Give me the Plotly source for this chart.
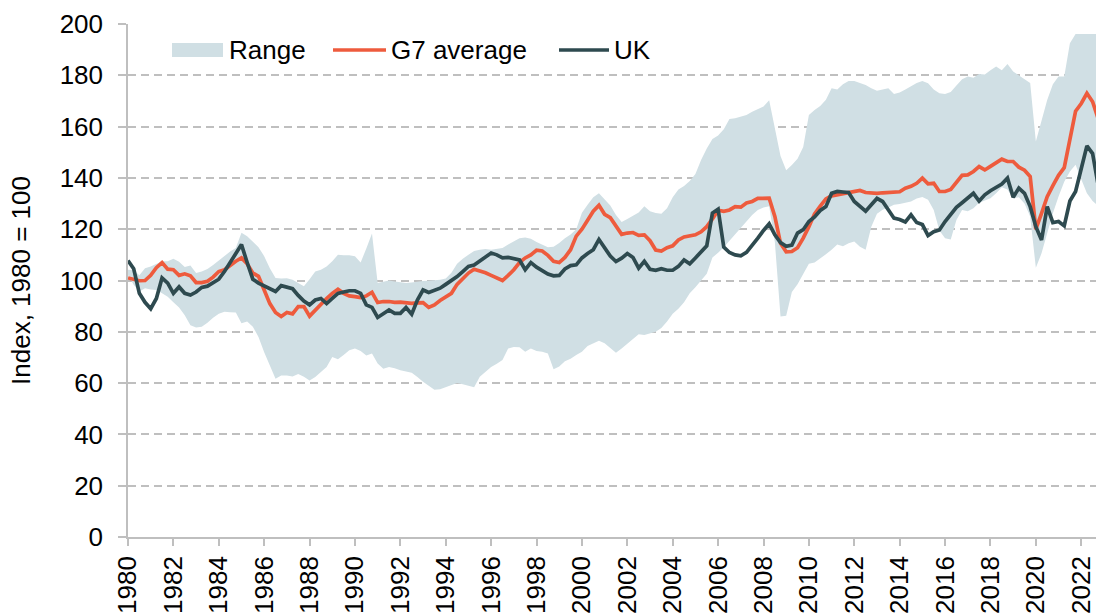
import plotly.graph_objects as go

# ---------------- data (quarterly, 1980Q1 .. 2022Q4) ----------------
years = list(range(1980, 2023))

uk = [
    107.8, 104.6, 95.0, 91.5,
    89.0, 93.0, 101.0, 99.0,
    95.0, 97.5, 95.0, 94.3,
    95.5, 97.3, 97.8, 99.0,
    100.5, 103.5, 107.0, 111.0,
    114.0, 107.0, 100.5, 99.0,
    97.8, 96.5, 95.7, 98.0,
    97.3, 96.8, 94.2, 92.0,
    90.5, 92.4, 93.0, 91.0,
    93.0, 95.0, 95.5, 96.0,
    96.0, 95.0, 90.5, 89.5,
    85.6, 87.2, 88.5, 87.2,
    87.2, 89.5, 86.9, 92.4,
    96.3, 95.3, 96.0, 97.0,
    98.5, 100.0, 101.5, 103.5,
    105.5, 106.0, 107.5, 109.2,
    110.7, 110.0, 108.8, 109.0,
    108.5, 108.0, 104.2, 107.0,
    105.2, 104.0, 102.5, 101.8,
    102.0, 104.5, 105.8, 106.1,
    108.8, 110.5, 112.0, 116.0,
    112.5, 109.5, 107.4, 108.7,
    110.5, 109.0, 104.8, 107.5,
    104.4, 104.0, 104.6, 104.0,
    104.0, 105.5, 108.0, 106.5,
    108.8, 111.0, 113.5, 126.3,
    127.8, 113.0, 110.9, 110.0,
    109.6, 111.0, 113.5, 116.5,
    119.5, 122.1, 117.8, 114.8,
    113.3, 113.8, 118.5, 119.8,
    123.0, 124.8, 127.3, 128.8,
    134.0, 134.7, 134.5, 134.3,
    130.8, 128.8, 127.0, 129.5,
    132.0, 130.8, 127.5, 124.3,
    123.8, 122.8, 125.6, 122.6,
    121.8, 117.5, 119.0, 119.7,
    123.0, 125.8, 128.5, 130.3,
    132.0, 134.0, 131.0, 133.4,
    135.0, 136.4, 137.6, 139.9,
    132.5, 136.0, 134.0, 128.8,
    121.0, 115.8, 128.8, 122.6,
    123.0, 121.3, 131.0, 134.7,
    143.1, 152.5, 149.5, 137.0,
]

g7 = [
    101.0, 100.3, 99.9, 100.0,
    102.0, 105.0, 107.0, 104.4,
    104.2, 102.0, 102.6, 101.8,
    99.2, 99.2, 99.7, 101.3,
    103.5, 104.2, 106.0, 107.5,
    108.8, 106.5, 102.9, 101.6,
    96.3, 91.0, 87.5, 86.0,
    87.5, 87.0, 89.8, 89.8,
    86.1, 88.5, 90.7, 93.0,
    95.0, 96.6, 95.0, 94.0,
    93.7, 93.3, 94.0, 95.4,
    91.4, 91.8, 91.8, 91.5,
    91.6, 91.3, 91.1, 91.3,
    91.4, 89.5, 90.5, 92.2,
    93.7, 95.0, 98.5, 100.5,
    102.9, 104.4, 103.8, 103.0,
    102.0, 100.8, 100.0, 102.0,
    104.2, 107.0, 108.8, 110.0,
    111.8, 111.5, 109.8, 107.5,
    107.0, 109.0, 112.0, 117.3,
    120.0, 123.5, 127.0, 129.3,
    125.8, 124.5, 121.0, 118.0,
    118.5, 118.7, 117.6, 117.8,
    115.5, 111.9, 111.5, 112.8,
    113.5, 115.8, 117.0, 117.5,
    117.8, 119.0, 121.0, 124.0,
    127.4, 127.0, 127.5, 128.8,
    128.6, 130.2, 130.8, 132.0,
    132.0, 132.1, 125.0, 114.5,
    111.2, 111.3, 112.8, 116.5,
    121.0, 126.0, 129.0, 131.8,
    133.0, 133.4, 134.0, 134.3,
    134.6, 135.1, 134.3, 134.0,
    134.0, 134.2, 134.3, 134.3,
    134.6, 136.0, 136.7, 137.9,
    139.9, 137.7, 137.9, 134.7,
    134.7, 135.5, 138.0, 141.0,
    141.2, 142.5, 144.4, 143.1,
    144.5, 146.0, 147.3, 146.4,
    146.4, 144.2, 143.0, 140.5,
    120.0, 126.2, 132.7, 137.0,
    141.0, 144.0, 154.8, 166.0,
    169.0, 173.0, 169.7, 163.0,
]

range_high = [
    104.2, 104.0, 102.0, 104.8,
    105.5, 106.5, 107.5, 107.5,
    108.5, 107.3, 105.3, 105.8,
    102.9, 103.5, 104.5, 106.0,
    107.8, 109.3, 111.3, 112.7,
    118.6, 117.3, 115.3, 113.0,
    109.5, 104.8, 101.0, 100.8,
    100.9, 100.3, 99.0, 97.8,
    100.5, 103.5, 104.2, 105.5,
    107.5, 110.0, 109.8, 109.8,
    109.5, 107.0, 112.5, 118.3,
    99.0, 99.6, 100.0, 99.6,
    99.2, 99.0, 99.2, 99.6,
    99.8, 99.9, 100.1, 100.3,
    100.8, 103.0, 106.5, 108.5,
    110.0, 111.5, 112.0, 112.3,
    112.0, 112.3, 112.7, 114.0,
    115.3, 116.5, 116.8, 116.3,
    115.0, 114.0, 113.0, 113.2,
    114.6, 116.5, 117.9, 120.0,
    126.4, 129.5, 132.5, 134.0,
    131.8, 129.2, 125.5, 122.8,
    124.0, 125.2, 126.5, 128.9,
    127.0, 126.3, 126.0, 128.2,
    132.5, 135.5, 136.8, 138.8,
    141.5, 147.0, 151.5, 155.2,
    156.5, 159.0, 163.0, 163.3,
    163.8, 164.5, 165.8, 166.8,
    167.8, 170.3, 160.0, 148.5,
    143.0, 145.0, 147.5, 152.0,
    164.5, 166.5, 168.0, 170.5,
    175.0, 174.5, 176.5, 177.8,
    177.8, 177.0, 176.2, 175.0,
    174.0, 174.5, 175.0, 172.7,
    173.3, 174.5, 175.7, 177.0,
    177.8, 176.9, 174.5, 173.0,
    172.7, 173.5, 176.0, 178.5,
    179.5, 179.0, 180.5, 180.3,
    182.0, 183.4, 182.0, 184.4,
    181.5, 180.1, 178.5, 177.0,
    154.2, 162.6, 170.4, 176.5,
    179.5, 179.5, 192.5, 196.1,
    196.1, 196.1, 196.1, 196.1,
]

range_low = [
    102.0, 98.3, 95.7, 97.0,
    96.5, 96.3, 95.0, 93.7,
    91.5, 89.5, 86.5, 82.6,
    81.7, 82.0, 83.5, 85.5,
    87.0, 87.8, 87.6, 87.5,
    83.3, 84.0, 82.0, 78.0,
    72.0, 67.0, 61.7, 63.0,
    63.0, 62.6, 63.5, 62.5,
    61.0, 62.4, 64.3, 66.3,
    70.2, 69.3, 71.0, 72.8,
    73.5, 72.5, 70.8, 71.5,
    67.6, 65.6, 66.3, 65.8,
    65.0, 64.5, 64.0, 62.4,
    60.5, 59.0, 57.4, 57.6,
    58.5, 59.3, 60.0, 59.6,
    59.1, 58.4, 62.5, 64.5,
    66.3, 67.5, 69.0, 73.5,
    74.1, 74.0, 72.2, 73.5,
    72.5, 72.2, 71.5, 65.4,
    66.5, 68.5, 69.5, 71.0,
    72.2, 74.5, 75.4, 76.5,
    75.5, 73.5, 71.8, 73.5,
    75.3, 77.0, 79.0, 78.8,
    79.5, 80.0, 81.5, 84.0,
    87.0, 89.0, 91.5, 95.0,
    97.4, 100.0, 102.6, 109.0,
    110.8, 113.0, 115.5, 117.8,
    120.5, 122.8, 125.5, 127.5,
    128.5, 128.9, 115.0, 86.0,
    86.3, 95.5, 98.5, 102.5,
    106.5, 107.0, 108.5, 110.2,
    112.0, 114.0, 113.4, 114.5,
    115.2, 113.2, 112.0, 121.0,
    126.0, 127.6, 128.5, 129.5,
    129.8, 130.2, 130.8, 132.0,
    132.6, 131.5, 127.5, 119.5,
    116.5, 116.0, 123.6, 127.5,
    127.0, 128.2, 130.3, 131.2,
    132.1, 134.0, 136.4, 135.5,
    132.0, 132.5, 130.0, 125.0,
    105.0, 110.6, 118.4, 126.2,
    132.7, 138.5, 142.5, 145.1,
    139.5, 134.0, 131.0, 129.0,
]

tick_years = list(range(1980, 2023, 2))
tick_labels = [str(y) for y in tick_years]
y_ticks = list(range(0, 201, 20))

# quarterly time axis (decimal years)
x = [y + q / 4 for y in years for q in range(4)]

# ---------------- styling ----------------
FONT = "Arial, Liberation Sans, sans-serif"
FS = 26
C_RANGE = "#D0DFE4"
C_G7 = "#EE5B3D"
C_UK = "#2E4A4F"
C_GRID = "#BFBFBF"
LW = 3.7

fig = go.Figure()
fig.add_trace(go.Scatter(x=x, y=range_low, mode="lines", line=dict(width=0, color=C_RANGE),
                         showlegend=False, hoverinfo="skip", name="Range low"))
fig.add_trace(go.Scatter(x=x, y=range_high, mode="lines", line=dict(width=0, color=C_RANGE),
                         fill="tonexty", fillcolor=C_RANGE, name="Range", showlegend=False))
fig.add_trace(go.Scatter(x=x, y=g7, mode="lines", line=dict(width=LW, color=C_G7),
                         name="G7 average", showlegend=False))
fig.add_trace(go.Scatter(x=x, y=uk, mode="lines", line=dict(width=LW, color=C_UK),
                         name="UK", showlegend=False))

L, R, T, B = 128, 0, 24, 76
W, H = 1096, 613
PW, PH = W - L - R, H - T - B


def px(xp):
    return (xp - L) / PW


def py(yp):
    return (H - B - yp) / PH


# manual legend (shapes + real text)
legend_y = 50
fig.add_shape(type="rect", xref="paper", yref="paper", x0=px(172), x1=px(223),
              y0=py(57), y1=py(43), fillcolor=C_RANGE, line=dict(width=0))
fig.add_shape(type="line", xref="paper", yref="paper", x0=px(333), x1=px(386),
              y0=py(legend_y), y1=py(legend_y), line=dict(color=C_G7, width=3.5))
fig.add_shape(type="line", xref="paper", yref="paper", x0=px(559), x1=px(609),
              y0=py(legend_y), y1=py(legend_y), line=dict(color=C_UK, width=3.5))
for txt, xp in [("Range", 227), ("G7 average", 389), ("UK", 612)]:
    fig.add_annotation(text=txt, xref="paper", yref="paper", x=px(xp), y=py(legend_y),
                       xanchor="left", yanchor="middle", showarrow=False,
                       font=dict(family=FONT, size=FS, color="#000000"))

fig.update_layout(
    width=W, height=H,
    margin=dict(l=L, r=R, t=T, b=B, autoexpand=False),
    paper_bgcolor="white", plot_bgcolor="white",
    font=dict(family=FONT, size=FS, color="#000000"),
    showlegend=False,
)
fig.update_xaxes(
    range=[1980, 1980 + 170.6 / 4],
    tickmode="array", tickvals=tick_years, ticktext=tick_labels, tickangle=-90,
    showgrid=False, zeroline=False,
    showline=True, linecolor=C_GRID, linewidth=1.5,
    ticks="outside", ticklen=7, tickwidth=1.5, tickcolor=C_GRID,
    tickfont=dict(family=FONT, size=FS, color="#000000"),
)
fig.update_yaxes(
    range=[0, 200], tickmode="array", tickvals=y_ticks,
    showgrid=True, gridcolor=C_GRID, griddash="8px,5px", gridwidth=1.5,
    zeroline=False, showline=True, linecolor=C_GRID, linewidth=1.5,
    ticks="outside", ticklen=8, tickwidth=1.5, tickcolor=C_GRID,
    ticklabelstandoff=10,
    tickfont=dict(family=FONT, size=FS, color="#000000"),
    title=dict(text="Index, 1980 = 100", font=dict(family=FONT, size=FS, color="#000000"),
               standoff=22),
)

fig.write_html("out.html", config={"displayModeBar": False})

with open("out.html", "r", encoding="utf-8") as f:
    html = f.read()
html = html.replace("<head>", "<head><style>html,body{margin:0;padding:0;overflow:hidden;}</style>", 1)
with open("out.html", "w", encoding="utf-8") as f:
    f.write(html)
